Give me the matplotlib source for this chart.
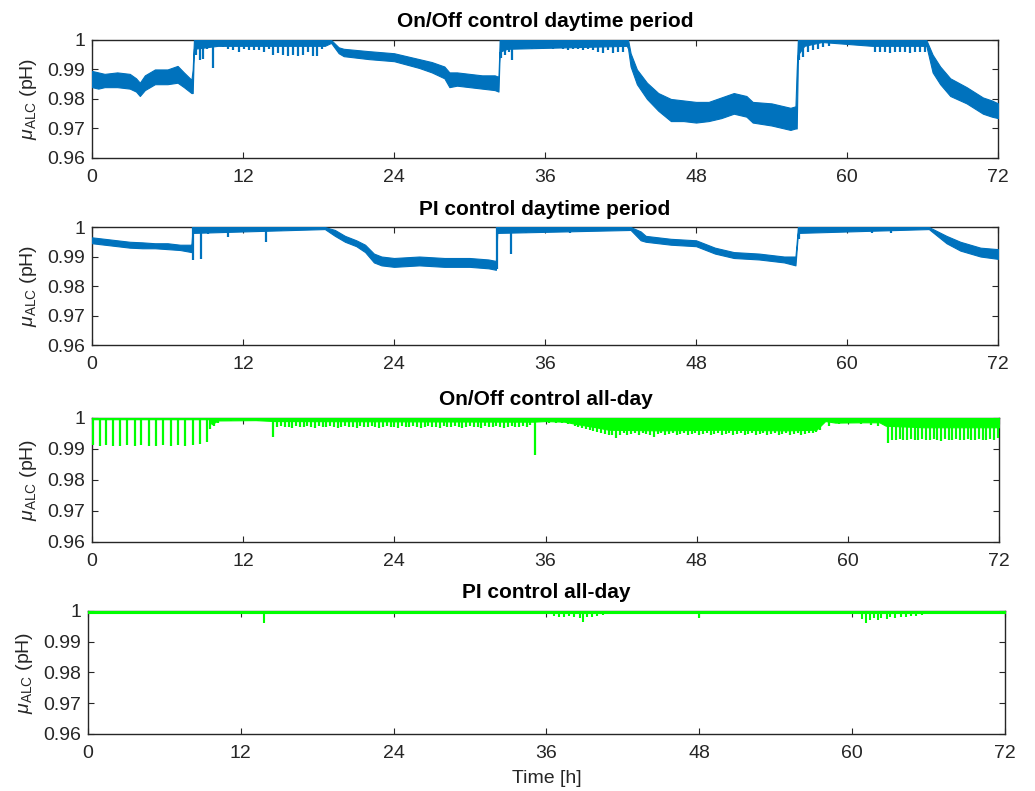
import numpy as np
import matplotlib.pyplot as plt

plt.rcParams['font.family'] = ['Liberation Sans', 'DejaVu Sans']
plt.rcParams['mathtext.fontset'] = 'custom'
plt.rcParams['mathtext.rm'] = 'Liberation Sans'
plt.rcParams['mathtext.it'] = 'Liberation Sans:italic'

blue = '#0072BD'
green = '#00FF00'
dark = '#262626'

titles = ['On/Off control daytime period', 'PI control daytime period',
          'On/Off control all-day', 'PI control all-day']
xticks = [0, 12, 24, 36, 48, 60, 72]
yticks = [0.96, 0.97, 0.98, 0.99, 1.0]
yticklabels = ['0.96', '0.97', '0.98', '0.99', '1']

# --- On/Off daytime: band (time, upper, lower)
p1_t = [0, 0.5, 1, 2, 3, 3.5, 3.8, 4.2, 5, 6, 6.8, 7.3, 7.9, 8.0, 8.1, 10, 18.5, 19.0,
        19.6, 20, 22, 24, 26, 27, 28, 28.4, 29, 30, 31, 32, 32.3, 32.4, 33, 42.5,
        42.6, 42.8, 43.3, 44.1, 45, 46, 47, 48, 49, 50, 51, 52, 52.5, 54, 55.5, 55.9,
        56.0, 56.1, 56.6, 58, 62, 66.3, 66.8, 67.4, 68.2, 69.5, 70.8, 71.5, 72]
p1_hi = [0.9895, 0.989, 0.9885, 0.989, 0.9885, 0.987, 0.9855, 0.988, 0.990, 0.990,
         0.9912, 0.989, 0.9865, 0.990, 1.0, 1.0, 1.0, 1.0,
         0.9975, 0.997, 0.9962, 0.9955, 0.9935, 0.9925, 0.991, 0.989, 0.989, 0.9885,
         0.988, 0.988, 0.9875, 1.0, 1.0, 1.0,
         1.0, 0.9955, 0.990, 0.9855, 0.982, 0.980, 0.9795, 0.979, 0.979, 0.9805,
         0.982, 0.981, 0.979, 0.9785, 0.977, 0.9775,
         0.990, 1.0, 1.0, 1.0, 1.0, 1.0, 0.995, 0.991, 0.987, 0.984, 0.9805, 0.9795, 0.9785]
p1_lo = [0.984, 0.9835, 0.984, 0.984, 0.9835, 0.9825, 0.981, 0.983, 0.985, 0.985,
         0.9855, 0.984, 0.982, 0.982, 0.997, 0.998, 0.998, 0.999,
         0.9955, 0.9945, 0.9935, 0.9928, 0.9905, 0.989, 0.987, 0.984, 0.9845, 0.984,
         0.9835, 0.983, 0.9825, 0.996, 0.997, 0.998,
         0.997, 0.991, 0.985, 0.980, 0.976, 0.9725, 0.9725, 0.972, 0.9725, 0.9735,
         0.975, 0.974, 0.972, 0.971, 0.9695, 0.970,
         0.970, 0.995, 0.998, 0.9993, 0.998, 0.998, 0.989, 0.985, 0.981, 0.9785, 0.975, 0.974, 0.9735]
p1_spk_t = [8.3, 8.6, 8.8, 9.1, 9.6, 10.0, 10.4, 10.8, 11.2, 11.7, 12.1, 12.5, 12.9, 13.3,
            13.7, 14.1, 14.4, 14.8, 15.2, 15.6, 16.0, 16.4, 16.8, 17.2, 17.6, 17.9, 18.3,
            32.5, 32.8, 33.1, 33.4, 33.8, 34.2, 34.6, 35.0, 35.4, 35.8, 36.2, 36.6, 37.0,
            37.4, 37.8, 38.2, 38.6, 39.0, 39.4, 39.8, 40.2, 40.6, 41.0, 41.4, 41.8, 42.2,
            56.2, 56.5, 56.9, 57.3, 57.7, 58.1, 58.6, 59.5, 60.5, 61.5, 62.2, 62.6, 63.0,
            63.4, 63.8, 64.2, 64.6, 65.0, 65.4, 65.8, 66.2]
p1_spk_v = [0.995, 0.9932, 0.9935, 0.997, 0.9904, 0.998, 0.9975, 0.997, 0.9965, 0.996,
            0.997, 0.9965, 0.9965, 0.9965, 0.996, 0.997, 0.995, 0.9955, 0.995, 0.9945,
            0.995, 0.9945, 0.995, 0.996, 0.9945, 0.9945, 0.997,
            0.994, 0.995, 0.996, 0.9932, 0.9975, 0.997, 0.9975, 0.997, 0.9968, 0.997,
            0.9972, 0.997, 0.9975, 0.997, 0.9965, 0.997, 0.9968, 0.9965, 0.997, 0.9965,
            0.996, 0.9955, 0.9965, 0.9955, 0.996, 0.9958,
            0.9932, 0.9943, 0.996, 0.9965, 0.997, 0.9975, 0.998, 0.9988, 0.9988, 0.9988,
            0.996, 0.9958, 0.996, 0.9955, 0.996, 0.9958, 0.996, 0.9955, 0.996, 0.9958, 0.996]

# --- PI daytime
p2_t = [0, 1, 2, 3, 4, 5, 6, 7, 7.9, 8.0, 18.5, 19.3, 20.1, 21, 21.7, 22.4, 23, 24, 26,
        28, 30, 31.5, 32.1, 32.2, 42.8, 43.6, 44, 46, 48, 49.5, 51, 53, 55, 55.9, 56.1,
        66.5, 67.9, 69, 70.6, 72]
p2_hi = [0.9965, 0.996, 0.9955, 0.995, 0.9948, 0.9945, 0.9945, 0.994, 0.994, 1.0, 1.0,
         0.999, 0.997, 0.9955, 0.994, 0.991, 0.990, 0.9895, 0.990, 0.9895, 0.9895, 0.989,
         0.9885, 1.0, 1.0, 0.9985, 0.997, 0.996, 0.9955, 0.993, 0.9915, 0.991, 0.990,
         0.990, 1.0, 1.0, 0.997, 0.995, 0.993, 0.9925]
p2_lo = [0.9945, 0.994, 0.9935, 0.993, 0.9928, 0.9928, 0.9925, 0.9922, 0.9915, 0.998,
         0.9993, 0.997, 0.995, 0.9935, 0.9915, 0.988, 0.987, 0.9865, 0.987, 0.9865,
         0.9865, 0.986, 0.9855, 0.998, 0.999, 0.9955, 0.995, 0.994, 0.9935, 0.991,
         0.9895, 0.989, 0.988, 0.987, 0.998, 0.9993, 0.9945, 0.992, 0.990, 0.9892]
p2_spk_t = [8.0, 8.7, 9.2, 10.8, 12.0, 13.8, 15.0, 16.0, 32.2, 33.3, 34.5, 38.0, 40.0,
            56.2, 57.0, 62.0, 63.5]
p2_spk_v = [0.9888, 0.9893, 0.9975, 0.9966, 0.9985, 0.995, 0.9985, 0.9985, 0.9859,
            0.991, 0.998, 0.998, 0.9985, 0.996, 0.998, 0.998, 0.998]

# --- On/Off all-day: thin body under 1 and comb of dips
p3_t = [0, 9.3, 9.5, 10.0, 13, 14.5, 35, 36, 37.5, 38.5, 40, 41, 45, 50, 55, 57.5,
        58.2, 59, 61, 62.5, 63, 66, 72]
p3_lo = [0.9996, 0.9996, 0.998, 0.9992, 0.9993, 0.999, 0.9988, 0.999, 0.9988, 0.998,
         0.997, 0.9962, 0.996, 0.9962, 0.996, 0.9962, 0.999, 0.9985, 0.9986, 0.9986,
         0.9975, 0.997, 0.997]
p3_spk_t = [0.08, 0.61, 1.14, 1.67, 2.25, 2.81, 3.39, 3.92, 4.5, 5.06, 5.64, 6.25, 6.84,
            7.42, 8.03, 8.61, 9.09, 9.4, 9.7, 10.0, 10.5, 11.0, 12.6, 13.2, 14.4,
            14.7, 15.0, 15.3, 15.6, 15.9, 16.2, 16.5, 16.8, 17.1, 17.4, 17.7, 18.0, 18.3,
            18.6, 18.9, 19.2, 19.5, 19.8, 20.1, 20.4, 20.7, 21.0, 21.3, 21.6, 21.9, 22.2,
            22.5, 22.8, 23.1, 23.4, 23.7, 24.0, 24.3, 24.6, 24.9, 25.2, 25.5, 25.8, 26.1,
            26.4, 26.7, 27.0, 27.3, 27.6, 27.9, 28.2, 28.5, 28.8, 29.1, 29.4, 29.7, 30.0,
            30.3, 30.6, 30.9, 31.2, 31.5, 31.8, 32.1, 32.4, 32.7, 33.0, 33.3, 33.6, 33.9,
            34.2, 34.5, 34.8, 35.2, 36.3, 36.8, 37.3, 37.8,
            38.3, 38.6, 38.9, 39.2, 39.5, 39.8, 40.1, 40.4, 40.7, 41.0, 41.3, 41.6, 41.9,
            42.2, 42.5, 42.8, 43.1, 43.4, 43.7, 44.0, 44.3, 44.6, 44.9, 45.2, 45.5, 45.8,
            46.1, 46.4, 46.7, 47.0, 47.3, 47.6, 47.9, 48.2, 48.5, 48.8, 49.1, 49.4, 49.7,
            50.0, 50.3, 50.6, 50.9, 51.2, 51.5, 51.8, 52.1, 52.4, 52.7, 53.0, 53.3, 53.6,
            53.9, 54.2, 54.5, 54.8, 55.1, 55.4, 55.7, 56.0, 56.3, 56.6, 56.9, 57.2, 57.5,
            57.8, 58.5, 59.3, 60.2, 61.0, 61.8, 62.4,
            63.2, 63.5, 63.8, 64.1, 64.4, 64.7, 65.0, 65.3, 65.6, 65.9, 66.2, 66.5, 66.8,
            67.1, 67.4, 67.7, 68.0, 68.3, 68.6, 68.9, 69.2, 69.5, 69.8, 70.1, 70.4, 70.7,
            71.0, 71.3, 71.6, 71.9]
p3_spk_v = [0.9912, 0.991, 0.9912, 0.991, 0.9908, 0.9912, 0.991, 0.9913, 0.991, 0.9908,
            0.9912, 0.991, 0.9912, 0.991, 0.9912, 0.9915, 0.9922, 0.9965, 0.9975, 0.9985,
            0.9992, 0.999, 0.9992, 0.999, 0.994,
            0.997, 0.9975, 0.997, 0.9972, 0.9968, 0.9975, 0.997, 0.9972, 0.9975, 0.997,
            0.9968, 0.9975, 0.997, 0.9972, 0.9975, 0.997, 0.9968, 0.9972, 0.9975, 0.997,
            0.9972, 0.9968, 0.9975, 0.997, 0.9972, 0.9975, 0.997, 0.9968, 0.9972, 0.9975,
            0.997, 0.9972, 0.9968, 0.9975, 0.997, 0.9972, 0.9975, 0.997, 0.9968, 0.9972,
            0.9975, 0.997, 0.9972, 0.9968, 0.9975, 0.997, 0.9972, 0.9975, 0.997, 0.9968,
            0.9972, 0.9975, 0.997, 0.9972, 0.9968, 0.9975, 0.997, 0.9972, 0.9975, 0.997,
            0.9968, 0.9972, 0.9975, 0.997, 0.9972, 0.9975, 0.997, 0.9978, 0.988, 0.9985,
            0.9985, 0.9983, 0.998,
            0.9975, 0.997, 0.9968, 0.9965, 0.996, 0.9958, 0.9955, 0.995, 0.9948, 0.9945,
            0.9945, 0.9934, 0.9945, 0.995, 0.9945, 0.9948, 0.995, 0.9945, 0.995, 0.9948,
            0.9945, 0.9937, 0.9948, 0.995, 0.9945, 0.9948, 0.995, 0.9945, 0.9948, 0.995,
            0.9945, 0.9948, 0.995, 0.9945, 0.9948, 0.995, 0.9945, 0.9948, 0.995, 0.9945,
            0.9948, 0.995, 0.9945, 0.9948, 0.995, 0.9945, 0.9948, 0.995, 0.9945, 0.9948,
            0.995, 0.9945, 0.9948, 0.995, 0.9945, 0.9948, 0.995, 0.9945, 0.9948, 0.995,
            0.9945, 0.9948, 0.995, 0.9952, 0.9955, 0.996, 0.9975, 0.998, 0.9985, 0.998,
            0.9978, 0.9975,
            0.9918, 0.993, 0.9928, 0.9932, 0.993, 0.9928, 0.9932, 0.993, 0.9928, 0.9932,
            0.993, 0.9928, 0.9932, 0.993, 0.9925, 0.9932, 0.993, 0.9928, 0.9932, 0.993,
            0.9928, 0.9932, 0.993, 0.9928, 0.9932, 0.993, 0.9928, 0.9932, 0.993, 0.9935]

# --- PI all-day
p4_t = [0, 72]
p4_lo = [0.9995, 0.9995]
p4_spk_t = [9.0, 9.3, 9.6, 9.9, 12.0, 13.8, 20.0, 36.6, 37.0, 37.4, 37.8, 38.2, 38.6,
            38.9, 39.2, 39.6, 40.0, 40.4, 43.0, 48.0, 52.0, 60.8, 61.1, 61.4, 61.7, 62.0,
            62.3, 62.7, 63.0, 63.4, 63.8, 64.2, 64.6, 65.0, 65.5, 66.0]
p4_spk_v = [0.9992, 0.9991, 0.9991, 0.9992, 0.9993, 0.9962, 0.9995, 0.9985, 0.9982,
            0.998, 0.9983, 0.998, 0.9978, 0.9963, 0.998, 0.9982, 0.9985, 0.9988, 0.9992,
            0.9976, 0.9993, 0.9975, 0.996, 0.9972, 0.9978, 0.997, 0.9978, 0.9975, 0.998,
            0.9978, 0.9982, 0.998, 0.9985, 0.9983, 0.9988, 0.999]

fig = plt.figure(figsize=(10.35, 7.91), dpi=100)
boxes = [[0.0889, 0.8003, 0.8754, 0.1492],
         [0.0889, 0.5638, 0.8754, 0.1492],
         [0.0889, 0.3148, 0.8764, 0.1568],
         [0.0850, 0.0721, 0.8860, 0.1555]]
axes = [fig.add_axes(b) for b in boxes]

# daytime panels
axes[0].fill_between(p1_t, p1_lo, p1_hi, color=blue, lw=0.8, zorder=3)
axes[0].vlines(p1_spk_t, p1_spk_v, 1.0, color=blue, lw=1.6, zorder=3)
axes[1].fill_between(p2_t, p2_lo, p2_hi, color=blue, lw=0.8, zorder=3)
axes[1].vlines(p2_spk_t, p2_spk_v, 1.0, color=blue, lw=1.6, zorder=3)

# all-day panels
axes[2].fill_between(p3_t, p3_lo, 1.0, color=green, lw=0.8, zorder=3)
axes[2].vlines(p3_spk_t, p3_spk_v, 1.0, color=green, lw=1.6, zorder=3)
axes[3].fill_between(p4_t, p4_lo, 1.0, color=green, lw=0.8, zorder=3)
axes[3].vlines(p4_spk_t, p4_spk_v, 1.0, color=green, lw=1.5, zorder=3)

for ax, title in zip(axes, titles):
    ax.set_xlim(0, 72)
    ax.set_ylim(0.96, 1.0)
    ax.set_xticks(xticks)
    ax.set_yticks(yticks)
    ax.set_yticklabels(yticklabels)
    ax.tick_params(direction='in', top=True, right=True, length=4.5, width=0.8,
                   labelsize=14, colors=dark, pad=5)
    ax.tick_params(axis='x', pad=8)
    for s in ax.spines.values():
        s.set_color(dark)
        s.set_linewidth(1.0)
    ax.set_title(title, fontsize=15, fontweight='bold', color='black', pad=9)
    ax.set_ylabel(r'$\mu_{\mathrm{ALC}}$ (pH)', fontsize=14, color=dark, labelpad=6)

axes[3].set_xlabel('Time [h]', fontsize=14, color=dark, labelpad=6)

fig.savefig('out.png', dpi=100)
